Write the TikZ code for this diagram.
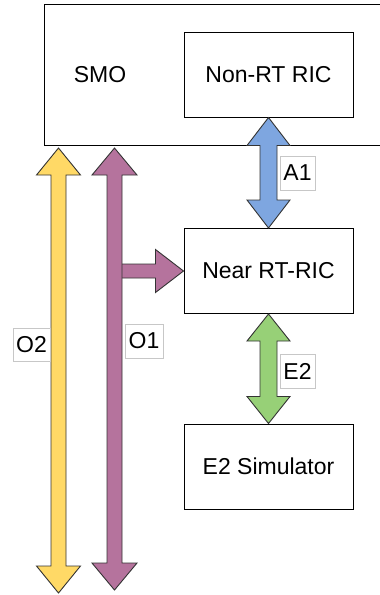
\documentclass[tikz,border=0pt]{standalone}
\usepackage{fontspec}
\setmainfont{Liberation Sans}
\usetikzlibrary{calc}
\definecolor{yel}{HTML}{FFD966}
\definecolor{pur}{HTML}{B5739D}
\definecolor{blu}{HTML}{7EA6E0}
\definecolor{grn}{HTML}{97D077}
\definecolor{edge}{HTML}{333333}
% vertical double block arrow: #1 fill, #2 top tip, #3 bottom tip, #4 shaft half width, #5 head half width, #6 head length
\newcommand\vdblarrow[6]{%
  \draw[blk, fill=#1] let \p1=(#2), \p2=(#3) in
    (\x1,\y1) -- (\x1+#5,\y1-#6) -- (\x1+#4,\y1-#6) -- (\x1+#4,\y2+#6) -- (\x1+#5,\y2+#6)
    -- (\x1,\y2) -- (\x1-#5,\y2+#6) -- (\x1-#4,\y2+#6) -- (\x1-#4,\y1-#6) -- (\x1-#5,\y1-#6) -- cycle;}
% horizontal single block arrow: #1 fill, #2 start, #3 tip, #4 shaft hw, #5 head hw, #6 head len
\newcommand\hsglarrow[6]{%
  \draw[blk, fill=#1] let \p1=(#2), \p2=(#3) in
    (\x1,\y2+#4) -- (\x2-#6,\y2+#4) -- (\x2-#6,\y2+#5) -- (\x2,\y2) -- (\x2-#6,\y2-#5)
    -- (\x2-#6,\y2-#4) -- (\x1,\y2-#4);}
\begin{document}
\begin{tikzpicture}[x=1pt,y=-1pt,
  txt/.style={font=\fontsize{23}{27}\selectfont},
  box/.style={draw=black, line width=1pt, fill=white, minimum width=169pt, minimum height=85pt, inner sep=0pt, txt},
  lbl/.style={draw=black!22, fill=white, line width=0.7pt, inner sep=0pt, minimum width=36pt, minimum height=34pt, txt},
  blk/.style={draw=edge, line width=0.9pt, line join=miter}]
\useasboundingbox (0,0) rectangle (380,595);
\fill[white] (0,0) rectangle (380,595);
% SMO container
\node[draw=black, line width=1pt, fill=white, anchor=north west, minimum width=345pt, minimum height=141pt, inner sep=0pt] (smo) at (44,4) {};
\node[txt] (smotxt) at (100,75) {SMO};
\node[box] (nonrt) at (268.5,74.5) {Non-RT RIC};
\node[box] (near) at (268.5,271) {Near RT-RIC};
\node[box] (sim) at (268.5,466.5) {E2 Simulator};
% free ends
\coordinate (o2top) at (58.5,148);
\coordinate (o2bot) at (58.5,593);
\coordinate (o1top) at (114.5,148);
\coordinate (o1bot) at (114.5,590);
\coordinate (o1j) at (114.5,271);
% arrows
\vdblarrow{yel}{o2top}{o2bot}{7.5pt}{22pt}{27pt}
\hsglarrow{pur}{o1j}{near.west}{7pt}{21.5pt}{28pt}
\vdblarrow{pur}{o1top}{o1bot}{7.5pt}{22.5pt}{27pt}
\vdblarrow{blu}{nonrt.south}{near.north}{8.5pt}{21.5pt}{28pt}
\vdblarrow{grn}{near.south}{sim.north}{8.5pt}{21.5pt}{27pt}
% labels
\node[lbl, minimum width=35pt] (a1) at (297.5,173) {A1};
\node[lbl, minimum width=35pt] (e2) at (297.5,371) {E2};
\node[lbl, minimum width=37pt, minimum height=33pt] (o2) at (31.5,344.5) {O2};
\node[lbl, minimum width=38pt] (o1) at (144,341) {O1};
\end{tikzpicture}
\end{document}
